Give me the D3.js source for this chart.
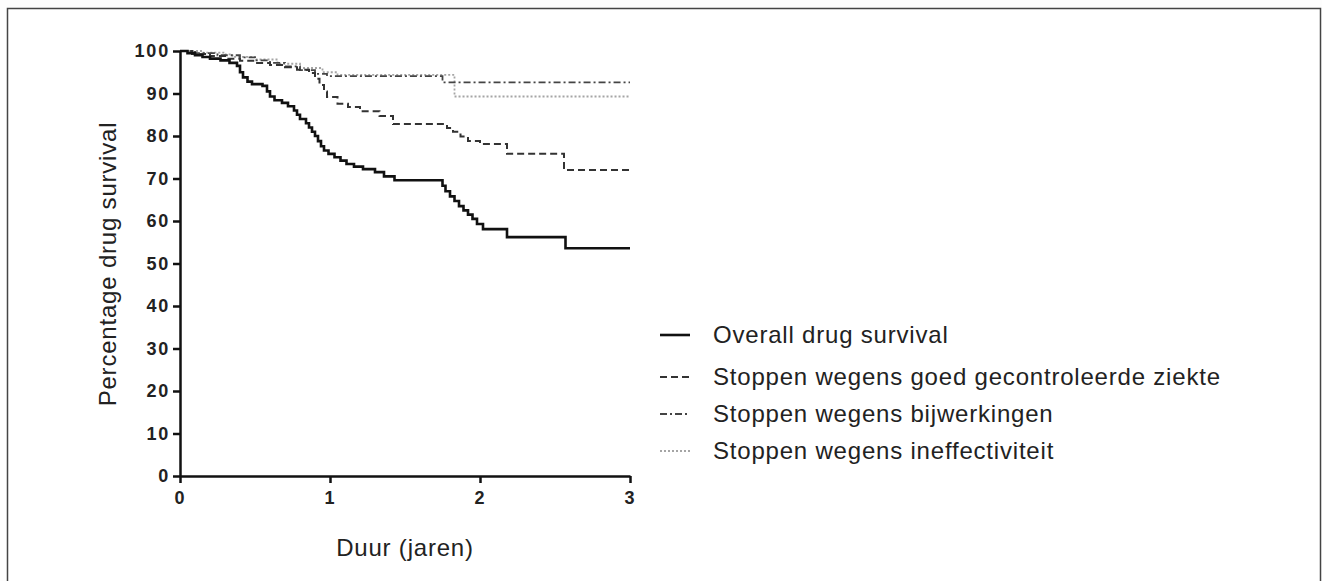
<!DOCTYPE html>
<html>
<head>
<meta charset="utf-8">
<script src="https://cdn.jsdelivr.net/npm/d3@7"></script>
<style>
  body { margin: 0; background: #fdfdfd; }
  svg { display: block; font-family: "Liberation Sans", Arial, sans-serif; }
  .axis path, .axis line { stroke: #111; stroke-width: 2.5; }
  .axis text { font-size: 18px; font-weight: bold; fill: #222; letter-spacing: 1.8px; }
</style>
</head>
<body>
<div id="chart"></div>
<script>
// Kaplan-Meier style step data (jaren, percentage)
var overallT = [0, 0.05, 0.1, 0.15, 0.2, 0.27, 0.33, 0.38, 0.4, 0.42, 0.45, 0.48, 0.55, 0.58, 0.6, 0.63, 0.68, 0.72, 0.76, 0.78, 0.8, 0.84, 0.86, 0.88, 0.9, 0.92, 0.94, 0.96, 0.99, 1.03, 1.07, 1.11, 1.16, 1.22, 1.3, 1.36, 1.43, 1.75, 1.77, 1.8, 1.83, 1.86, 1.89, 1.92, 1.95, 1.98, 2.02, 2.18, 2.57, 3];
var overallV = [100, 99.5, 99, 98.6, 98.2, 97.8, 97.2, 96.5, 95, 93.8, 92.8, 92.2, 91.8, 90.5, 89.3, 88.4, 87.8, 87, 86, 85, 84, 83, 82, 81, 80, 78.8, 77.6, 76.6, 75.8, 75, 74.2, 73.4, 72.8, 72.2, 71.5, 70.5, 69.6, 68.3, 67, 65.8, 64.7, 63.5, 62.5, 61.5, 60.5, 59.3, 58.1, 56.2, 53.6, 53.6];

var goedT = [0, 0.08, 0.2, 0.3, 0.4, 0.5, 0.6, 0.7, 0.78, 0.86, 0.9, 0.93, 0.96, 0.98, 1.05, 1.12, 1.2, 1.33, 1.42, 1.78, 1.82, 1.87, 1.92, 2.0, 2.18, 2.56, 3];
var goedV = [100, 99.3, 98.8, 98.2, 97.7, 97.2, 96.7, 96.2, 95.6, 94.8, 93.5, 92, 90.5, 89.2, 87.6, 86.8, 85.8, 84.7, 82.8, 81.9, 81, 79.9, 78.8, 78.1, 75.8, 72, 72];

var bijwT = [0, 0.1, 0.25, 0.4, 0.5, 0.6, 0.7, 0.8, 0.9, 0.98, 1.75, 3];
var bijwV = [100, 99.5, 99, 98.5, 97.8, 97.2, 96.4, 95.5, 94.6, 94.1, 92.6, 92.6];

var ineffT = [0, 0.15, 0.3, 0.35, 0.5, 0.65, 0.8, 0.95, 1.05, 1.83, 3];
var ineffV = [100, 99.6, 99.2, 98.6, 98, 97, 96, 95, 94.4, 89.3, 89.3];

var seriesNames = ["Overall drug survival", "Stoppen wegens goed gecontroleerde ziekte", "Stoppen wegens bijwerkingen", "Stoppen wegens ineffectiviteit"];
var xTicks = [0, 1, 2, 3];
var yTicks = [0, 10, 20, 30, 40, 50, 60, 70, 80, 90, 100];

var W = 1322, H = 581;
var styles = [
  { stroke: "#111", width: 2.6, dash: null },
  { stroke: "#333", width: 2, dash: "7,4" },
  { stroke: "#444", width: 1.8, dash: "7,3,2,3" },
  { stroke: "#a5a5a5", width: 1.8, dash: "2,2" }
];

var series = [
  { name: seriesNames[0], t: overallT, v: overallV },
  { name: seriesNames[1], t: goedT, v: goedV },
  { name: seriesNames[2], t: bijwT, v: bijwV },
  { name: seriesNames[3], t: ineffT, v: ineffV }
];

var svg = d3.select("#chart").append("svg")
    .attr("width", W)
    .attr("height", H);

// frame round the figure
svg.append("rect")
    .attr("x", 7.5).attr("y", 8.5)
    .attr("width", 1313).attr("height", 640)
    .attr("fill", "#fff")
    .attr("stroke", "#444").attr("stroke-width", 1.5);

var x = d3.scaleLinear().domain([0, 3]).range([180, 630]);
var y = d3.scaleLinear().domain([0, 100]).range([476, 51]);

var line = d3.line()
    .x(d => x(d[0]))
    .y(d => y(d[1]))
    .curve(d3.curveStepAfter);

// draw lighter lines first, solid on top
series.slice().reverse().forEach(function(s) {
  var i = series.indexOf(s);
  var pts = s.t.map((t, k) => [t, s.v[k]]);
  svg.append("path")
      .datum(pts)
      .attr("d", line)
      .attr("fill", "none")
      .attr("stroke", styles[i].stroke)
      .attr("stroke-width", styles[i].width)
      .attr("stroke-dasharray", styles[i].dash);
});

svg.append("g")
    .attr("class", "axis")
    .attr("transform", "translate(0," + y(0) + ")")
    .call(d3.axisBottom(x).tickValues(xTicks).tickFormat(d3.format("d"))
      .tickSize(7).tickPadding(8).tickSizeOuter(0));

svg.append("g")
    .attr("class", "axis")
    .attr("transform", "translate(" + x(0) + ",0)")
    .call(d3.axisLeft(y).tickValues(yTicks).tickFormat(d3.format("d"))
      .tickSize(7).tickPadding(3).tickSizeOuter(0));

// axis titles
svg.append("text")
    .attr("x", 405).attr("y", 556)
    .attr("text-anchor", "middle")
    .style("font-size", "24px").style("letter-spacing", "0.8px").style("fill", "#222")
    .text("Duur (jaren)");

svg.append("text")
    .attr("transform", "translate(116,264) rotate(-90)")
    .attr("text-anchor", "middle")
    .style("font-size", "24px").style("letter-spacing", "0.8px").style("fill", "#222")
    .text("Percentage drug survival");

// legend
var legY = [335, 377, 414, 451];
var leg = svg.append("g");
series.forEach(function(s, i) {
  leg.append("line")
      .attr("x1", 660).attr("x2", 690)
      .attr("y1", legY[i]).attr("y2", legY[i])
      .attr("stroke", styles[i].stroke)
      .attr("stroke-width", styles[i].width)
      .attr("stroke-dasharray", styles[i].dash);
  leg.append("text")
      .attr("x", 713).attr("y", legY[i] + 8)
      .style("font-size", "24px").style("letter-spacing", "0.8px").style("fill", "#222")
      .text(s.name);
});
</script>
</body>
</html>
